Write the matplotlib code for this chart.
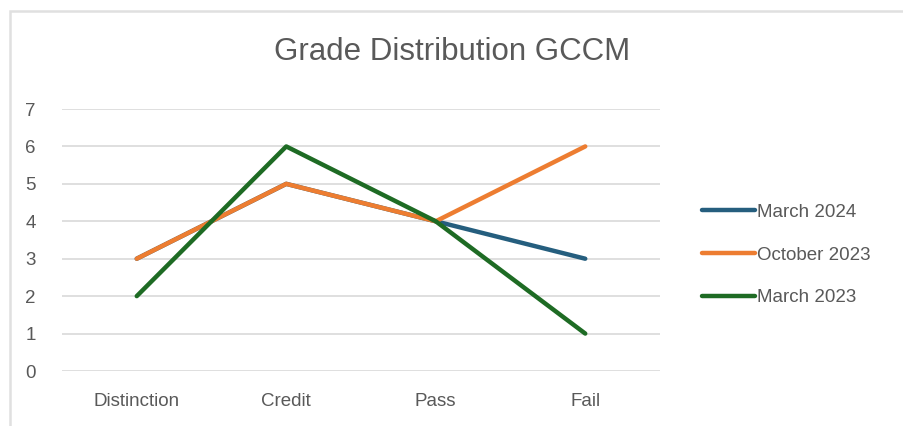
import matplotlib
matplotlib.use("Agg")
import matplotlib.pyplot as plt
from matplotlib.patches import Rectangle
from matplotlib import font_manager

categories = ["Distinction", "Credit", "Pass", "Fail"]
series_names = ["March 2024", "October 2023", "March 2023"]
march_2024 = [3, 5, 4, 3]
october_2023 = [3, 5, 4, 6]
march_2023 = [2, 6, 4, 1]
colors = ["#255e7e", "#ed7d31", "#1e6b24"]
yticks = [0, 1, 2, 3, 4, 5, 6, 7]

names = {f.name for f in font_manager.fontManager.ttflist}
fam = "Liberation Sans Narrow" if "Liberation Sans Narrow" in names else "Liberation Sans"
plt.rcParams["font.family"] = [fam, "DejaVu Sans"]

W, H = 904, 426
fig = plt.figure(figsize=(W / 100, H / 100), dpi=100)
fig.patch.set_facecolor("white")

# chart border (cropped)
fig.patches.append(Rectangle((10 / W, -0.1), 1.2, 1.1 - 11 / H, transform=fig.transFigure,
                             fill=False, edgecolor="#e0e0e0", linewidth=1.8))

left, right = 62, 660
top, bottom = 109, 371
ax = fig.add_axes([left / W, 1 - bottom / H, (right - left) / W, (bottom - top) / H])
x = list(range(len(categories)))
for vals, c, n in zip([march_2024, october_2023, march_2023], colors, series_names):
    ax.plot(x, vals, color=c, linewidth=3.2, solid_capstyle="round", label=n)

ax.set_xlim(-0.5, len(categories) - 0.5)
ax.set_ylim(0, 7)
ax.set_yticks(yticks)
ax.set_xticks(x)
ax.set_xticklabels(categories)
ax.grid(axis="y", color="#d9d9d9", linewidth=1.2)
ax.set_axisbelow(True)
for s in ax.spines.values():
    s.set_visible(False)
ax.tick_params(axis="both", length=0, labelsize=13.5, colors="#595959")
ax.tick_params(axis="y", pad=19)
ax.tick_params(axis="x", pad=16)

fig.text(452 / W, 1 - 52 / H, "Grade Distribution GCCM", ha="center", va="center",
         fontsize=22.5, color="#595959")

leg = fig.legend(loc="center left", bbox_to_anchor=(695 / W, 1 - 255 / H), frameon=False,
                 fontsize=13.5, handlelength=2.8, handletextpad=0.1, labelspacing=1.36,
                 borderaxespad=0)
for t in leg.get_texts():
    t.set_color("#595959")

fig.savefig("out.png", dpi=100, facecolor="white")
